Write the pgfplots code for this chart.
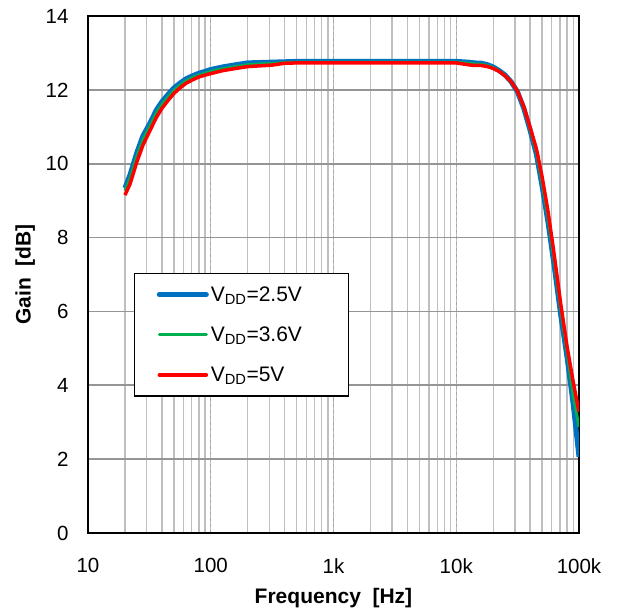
\documentclass[border=0pt]{standalone}
\usepackage{pgfplots}
\pgfplotsset{compat=1.18}
\usepackage{fontspec}
\setmainfont{Liberation Sans}
\definecolor{cblue}{HTML}{0070C0}
\definecolor{cgreen}{HTML}{00B050}
\definecolor{cred}{HTML}{FF0000}
\definecolor{gminor}{HTML}{BFBFBF}
\definecolor{gmajor}{HTML}{A6A6A6}
\begin{document}
\begin{tikzpicture}
\path[use as bounding box] (-88pt,-81pt) rectangle (536pt,533pt);
\begin{axis}[
  at={(0pt,0pt)}, anchor=south west,
  scale only axis, width=491pt, height=517pt,
  xmode=log, xmin=10, xmax=100000, ymin=0, ymax=14,
  xtick={10,100,1000,10000,100000},
  xticklabels={10,100,1k,10k,100k},
  ytick={0,2,4,6,8,10,12,14},
  /pgf/number format/assume math mode=true,
  ticklabel style={font=\fontsize{20.5}{24}\selectfont},
  xticklabel style={yshift=-22pt},
  yticklabel style={xshift=-16pt},
  major tick length=0pt, minor tick length=0pt,
  xmajorgrids, xminorgrids, ymajorgrids,
  major x grid style={gmajor, dashed, line width=1.2pt},
  minor x grid style={gminor, line width=1.4pt},
  major y grid style={gmajor!90!black, line width=1.8pt},
  axis line style={black, line width=1.6pt},
  xlabel={\textbf{Frequency\ \ [Hz]}},
  ylabel={\textbf{Gain\ \ [dB]}},
  xlabel style={font=\fontsize{21}{24}\selectfont, at={(axis description cs:0.5,-0.125)}, anchor=center},
  ylabel style={font=\fontsize{21}{24}\selectfont, at={(axis description cs:-0.128,0.5)}, anchor=center},
  legend style={at={(0.094,0.503)}, anchor=north west, draw=black, line width=1.3pt,
    font=\fontsize{21}{24}\selectfont, row sep=20pt, inner xsep=22pt, inner ysep=11pt, fill=white},
  legend cell align=left,
  legend image code/.code={\draw[#1, line cap=round] (0pt,0pt) -- (47pt,0pt);},
]
\addplot[cblue, line width=5pt, line join=round] coordinates {
(20,9.34)(22,9.7)(25,10.3)(28,10.75)(32,11.1)(36,11.45)(40,11.68)(45,11.88)(50,12.05)
(56,12.18)(63,12.3)(71,12.38)(80,12.45)(90,12.5)(100,12.55)(125,12.62)(160,12.68)
(200,12.73)(250,12.74)(315,12.75)(400,12.76)(500,12.77)(1000,12.77)(2000,12.77)
(5000,12.77)(10000,12.77)(12500,12.75)(14000,12.73)(16000,12.72)(18000,12.68)
(20000,12.62)(22400,12.52)(25000,12.4)(28000,12.22)(31500,11.95)(35500,11.5)
(40000,10.9)(45000,10.25)(50000,9.4)(56000,8.4)(63000,7.2)(71000,5.9)(80000,4.75)
(90000,3.45)(100000,2.06)};
\addlegendentry{\makebox[114pt][l]{V\textsubscript{DD}=2.5V}}
\addplot[cgreen, line width=3pt, line join=round] coordinates {
(20,9.27)(22,9.6)(25,10.2)(28,10.65)(32,11.02)(36,11.37)(40,11.6)(45,11.81)(50,11.98)
(56,12.12)(63,12.24)(71,12.33)(80,12.4)(90,12.45)(100,12.5)(125,12.57)(160,12.63)
(200,12.68)(250,12.7)(315,12.71)(400,12.74)(500,12.75)(1000,12.75)(2000,12.75)
(5000,12.75)(10000,12.75)(12500,12.72)(14000,12.7)(16000,12.69)(18000,12.66)
(20000,12.6)(22400,12.51)(25000,12.39)(28000,12.22)(31500,11.96)(35500,11.52)
(40000,10.94)(45000,10.32)(50000,9.5)(56000,8.55)(63000,7.35)(71000,6.05)(80000,4.9)
(90000,3.7)(100000,2.87)};
\addlegendentry{\makebox[114pt][l]{V\textsubscript{DD}=3.6V}}
\addplot[cred, line width=3.5pt, line join=round] coordinates {
(20,9.15)(22,9.45)(25,10.05)(28,10.5)(32,10.9)(36,11.25)(40,11.5)(45,11.72)(50,11.9)
(56,12.05)(63,12.18)(71,12.27)(80,12.35)(90,12.4)(100,12.44)(125,12.52)(160,12.58)
(200,12.63)(250,12.65)(315,12.67)(400,12.72)(500,12.73)(1000,12.73)(2000,12.73)
(5000,12.73)(10000,12.73)(12500,12.68)(14000,12.66)(16000,12.66)(18000,12.63)
(20000,12.58)(22400,12.5)(25000,12.38)(28000,12.22)(31500,11.97)(35500,11.55)
(40000,10.98)(45000,10.4)(50000,9.65)(56000,8.7)(63000,7.5)(71000,6.2)(80000,5.04)
(90000,4.06)(100000,3.28)};
\addlegendentry{\makebox[114pt][l]{V\textsubscript{DD}=5V}}
\end{axis}
\end{tikzpicture}
\end{document}
